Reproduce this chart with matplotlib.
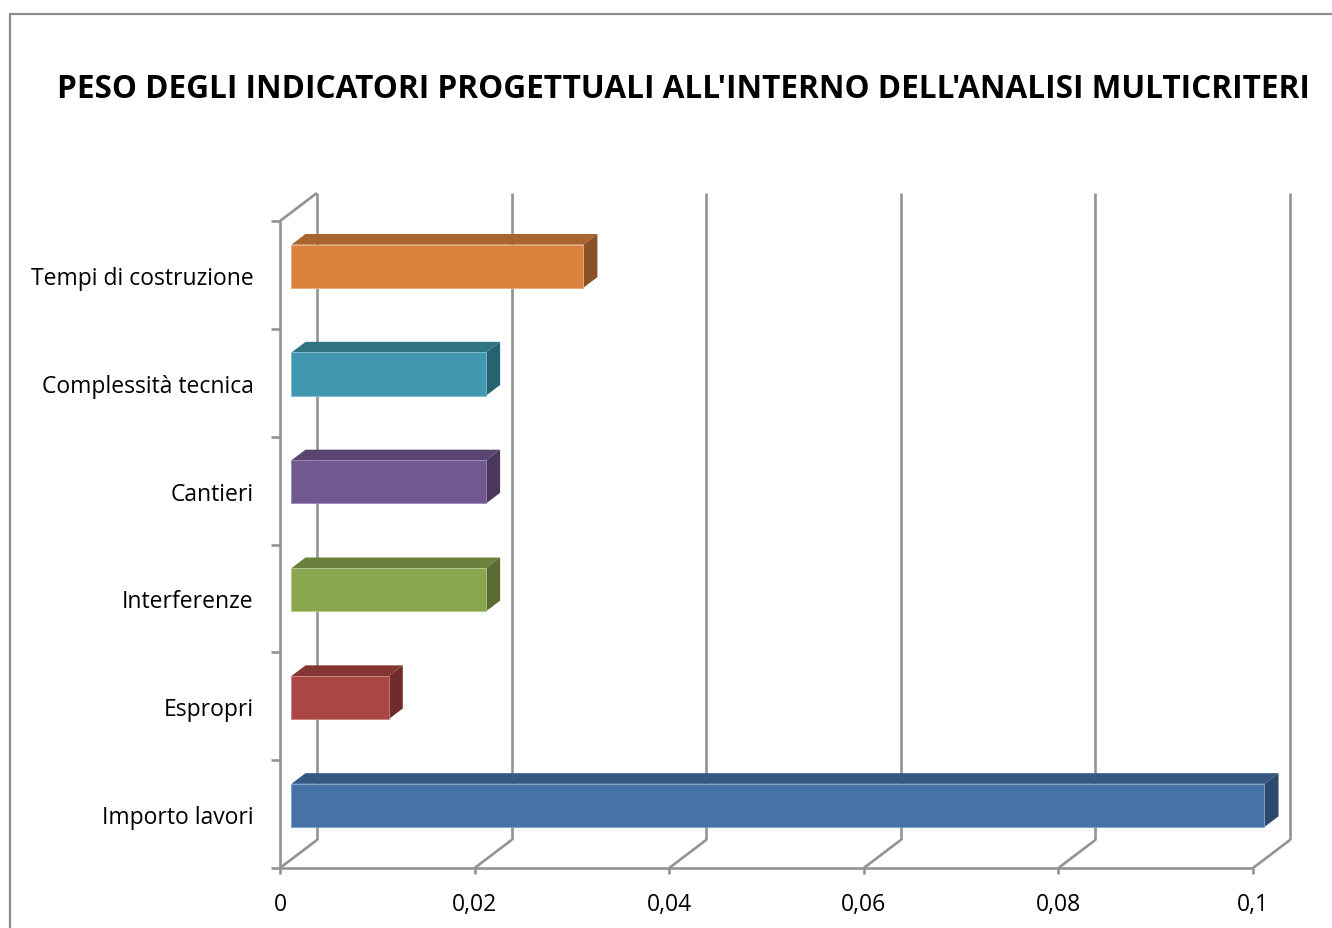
import matplotlib.pyplot as plt
from matplotlib.patches import Polygon, Rectangle

# data (top to bottom as shown in the chart)
categories = ["Tempi di costruzione", "Complessità tecnica", "Cantieri",
              "Interferenze", "Espropri", "Importo lavori"]
values = [0.03, 0.02, 0.02, 0.02, 0.01, 0.1]
xticks = [0, 0.02, 0.04, 0.06, 0.08, 0.1]
xtick_labels = ["0", "0,02", "0,04", "0,06", "0,08", "0,1"]
title = "PESO DEGLI INDICATORI PROGETTUALI ALL'INTERNO DELL'ANALISI MULTICRITERI"

# face colours: front, top, side, front edge
colors = [("#DA813D", "#A8652E", "#8A5226", "#EBA878"),
          ("#4398B1", "#317585", "#27626F", "#7FBCCE"),
          ("#71588F", "#59456F", "#4A395C", "#9C88B4"),
          ("#89A54E", "#6B803C", "#596A33", "#B2C68A"),
          ("#AA4643", "#853633", "#6E2D2B", "#CC7F7C"),
          ("#4572A7", "#355783", "#2C4A6E", "#7E9FC8")]

plt.rcParams['font.family'] = ['Open Sans', 'DejaVu Sans']
grid_c = "#939393"

W, H = 1332, 929
fig = plt.figure(figsize=(W / 100, H / 100), dpi=100)
# chart border (cropped on right and bottom)
fig.patches.append(Rectangle((10 / W, -0.1), 1.2, 1 - 15 / H + 0.1, transform=fig.transFigure,
                             fill=False, edgecolor="#8C8C8C", linewidth=1.6))

ax = fig.add_axes([280 / W, 60 / H, 973 / W, 647 / H])
n = len(categories)
ax.set_xlim(0, 0.1)
ax.set_ylim(0, n)
for s in ax.spines.values():
    s.set_visible(False)

# oblique depth offset (value units, category units)
DX, DY = 0.0038, 0.26
f0, f1 = 0.31, 0.69
half = 0.2

kw = dict(color=grid_c, lw=1.9, clip_on=False, zorder=1, solid_capstyle='butt')
# back wall gridlines and floor diagonals
for x in xticks:
    ax.plot([x + DX, x + DX], [DY, n + DY], **kw)
    ax.plot([x, x + DX], [0, DY], **kw)
# left wall
ax.plot([0, 0], [0, n], **kw)
ax.plot([0, DX], [n, n + DY], **kw)
# front floor line
ax.plot([0, 0.1], [0, 0], **kw)

# bars
for i, (v, (cf, ct, cs, ce)) in enumerate(zip(values, colors)):
    yc = n - 0.5 - i
    x0, x1 = f0 * DX, v + f0 * DX
    y0, y1 = yc + f0 * DY - half, yc + f0 * DY + half
    ddx, ddy = (f1 - f0) * DX, (f1 - f0) * DY
    front = [(x0, y0), (x1, y0), (x1, y1), (x0, y1)]
    top = [(x0, y1), (x1, y1), (x1 + ddx, y1 + ddy), (x0 + ddx, y1 + ddy)]
    side = [(x1, y0), (x1 + ddx, y0 + ddy), (x1 + ddx, y1 + ddy), (x1, y1)]
    ax.add_patch(Polygon(top, closed=True, facecolor=ct, edgecolor="none", zorder=3, clip_on=False))
    ax.add_patch(Polygon(side, closed=True, facecolor=cs, edgecolor="none", zorder=3, clip_on=False))
    ax.add_patch(Polygon(front, closed=True, facecolor=cf, edgecolor=ce, lw=0.6, zorder=4, clip_on=False))

# ticks
ax.set_xticks(xticks)
ax.set_xticklabels(xtick_labels)
ax.tick_params(axis='x', length=4, width=1.9, color=grid_c, pad=13, labelsize=16.5, labelcolor="#000000")
ax.set_yticks(range(n + 1))
ax.set_yticklabels([""] * (n + 1))
ax.tick_params(axis='y', which='major', length=6.5, width=1.9, color=grid_c)
ax.set_yticks([n - 0.5 - i for i in range(n)], minor=True)
ax.set_yticklabels(categories, minor=True)
ax.tick_params(axis='y', which='minor', length=0, pad=19, labelsize=16.5, labelcolor="#000000")

fig.text(683 / W, 1 - 90 / H, title, ha='center', va='center', fontsize=22.7, fontweight='bold')

fig.savefig("out.png", dpi=100)
